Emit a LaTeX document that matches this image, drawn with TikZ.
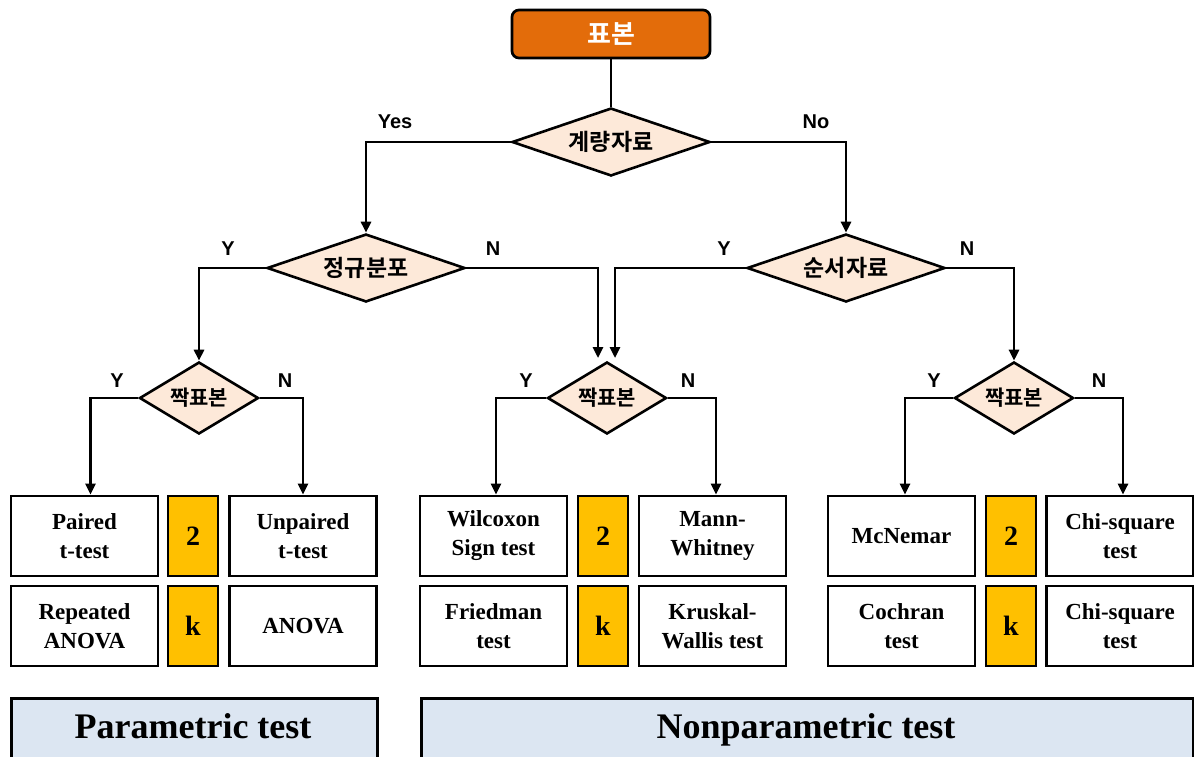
\documentclass[tikz,border=0pt]{standalone}
\usepackage{fontspec}
\setmainfont{Liberation Serif}
\newfontfamily\kr{Noto Sans CJK KR}[BoldFont={Noto Sans CJK KR Bold}]
\newfontfamily\ar{Liberation Sans}
\usetikzlibrary{shapes.geometric,arrows.meta}
\definecolor{orangebox}{HTML}{E36C0A}
\definecolor{peach}{HTML}{FDE9D9}
\definecolor{gold}{HTML}{FFC000}
\definecolor{paleblue}{HTML}{DCE6F2}
\tikzset{
  conn/.style={line width=2.6pt, draw=black},
  arr/.style={conn, -{Triangle[length=11pt,width=10pt]}},
  decbig/.style={diamond, draw=black, line width=2.6pt, fill=peach, inner sep=0pt, aspect=3,
     minimum width=198, minimum height=68, font=\kr\bfseries\fontsize{23}{25}\selectfont},
  decsmall/.style={diamond, draw=black, line width=2.6pt, fill=peach, inner sep=0pt, aspect=1.65,
     minimum width=119, minimum height=72, font=\kr\bfseries\fontsize{21}{23}\selectfont},
  testbox/.style={rectangle, draw=black, line width=2.7pt, fill=white, minimum width=147, minimum height=80,
     align=center, inner sep=0pt, font=\bfseries\fontsize{23}{29}\selectfont},
  numbox/.style={rectangle, draw=black, line width=2.7pt, fill=gold, minimum width=50, minimum height=80,
     inner sep=0pt, font=\bfseries\fontsize{28}{30}\selectfont},
  yn/.style={font=\ar\bfseries\fontsize{20}{22}\selectfont, inner sep=0pt},
  bar/.style={rectangle, draw=black, line width=2.6pt, fill=paleblue, inner sep=0pt},
  bartext/.style={font=\bfseries\fontsize{36}{38}\selectfont, inner sep=0pt, anchor=base}
}
\begin{document}
\begin{tikzpicture}[x=1pt,y=-1pt]
\clip (0,0) rectangle (1194,756);
\fill[white] (0,0) rectangle (1194,756);

% top
\node[rectangle, rounded corners=7pt, draw=black, line width=2.7pt, fill=orangebox,
  minimum width=198, minimum height=48, inner sep=0pt, text=white,
  font=\kr\bfseries\fontsize{26}{28}\selectfont] (root) at (611,34) {표본};

\node[decbig] (metric) at (611,142) {계량자료};
\node[decbig] (normal) at (366,268) {정규분포};
\node[decbig] (ordinal) at (846,268) {순서자료};

\node[decsmall] (pa) at (199,398) {짝표본};
\node[decsmall] (pb) at (607,398) {짝표본};
\node[decsmall] (pc) at (1014,398) {짝표본};

\coordinate (m1) at (598,358);
\coordinate (m2) at (615,358);

% labels
\node[yn] at (395,122) {Yes};
\node[yn] at (816,122) {No};
\node[yn] at (228,249) {Y};
\node[yn] at (493,249) {N};
\node[yn] at (724,249) {Y};
\node[yn] at (967,249) {N};
\node[yn] at (117,381) {Y};
\node[yn] at (285,381) {N};
\node[yn] at (526,381) {Y};
\node[yn] at (688,381) {N};
\node[yn] at (934,381) {Y};
\node[yn] at (1099,381) {N};

% boxes
\node[testbox] (a1) at (84.5,536) {Paired\\t-test};
\node[numbox]  (a2) at (193,536) {2};
\node[testbox] (a3) at (303,536) {Unpaired\\t-test};
\node[testbox] (a4) at (84.5,626) {Repeated\\ANOVA};
\node[numbox]  (a5) at (193,626) {k};
\node[testbox] (a6) at (303,626) {ANOVA};

\node[testbox] (b1) at (493.5,536) {Wilcoxon\\Sign test};
\node[numbox]  (b2) at (603,536) {2};
\node[testbox] (b3) at (712.5,536) {Mann-\\Whitney};
\node[testbox] (b4) at (493.5,626) {Friedman\\test};
\node[numbox]  (b5) at (603,626) {k};
\node[testbox] (b6) at (712.5,626) {Kruskal-\\Wallis test};

\node[testbox] (c1) at (901.5,536) {McNemar};
\node[numbox]  (c2) at (1011,536) {2};
\node[testbox] (c3) at (1120,536) {Chi-square\\test};
\node[testbox] (c4) at (901.5,626) {Cochran\\test};
\node[numbox]  (c5) at (1011,626) {k};
\node[testbox] (c6) at (1120,626) {Chi-square\\test};

% bars
\node[bar, minimum width=366, minimum height=80, anchor=north west] (p) at (10,697) {};
\node[bar, minimum width=772, minimum height=80, anchor=north west] (np) at (420,697) {};
\node[bartext] at (193,738) {Parametric test};
\node[bartext] at (806,738) {Nonparametric test};

% connectors
\draw[conn] (root.south) -- (metric.north);
\draw[arr] (metric.west) -| (normal.north);
\draw[arr] (metric.east) -| (ordinal.north);
\draw[arr] (normal.west) -| (pa.north);
\draw[arr] (normal.east) -| (m1);
\draw[arr] (ordinal.west) -| (m2);
\draw[arr] (ordinal.east) -| (pc.north);
\draw[arr] (pa.west) -| ([xshift=6]a1.north);
\draw[arr] (pa.east) -| (a3.north);
\draw[arr] (pb.west) -| ([xshift=2.5]b1.north);
\draw[arr] (pb.east) -| ([xshift=3.5]b3.north);
\draw[arr] (pc.west) -| ([xshift=3.5]c1.north);
\draw[arr] (pc.east) -| ([xshift=3]c3.north);
\end{tikzpicture}
\end{document}
